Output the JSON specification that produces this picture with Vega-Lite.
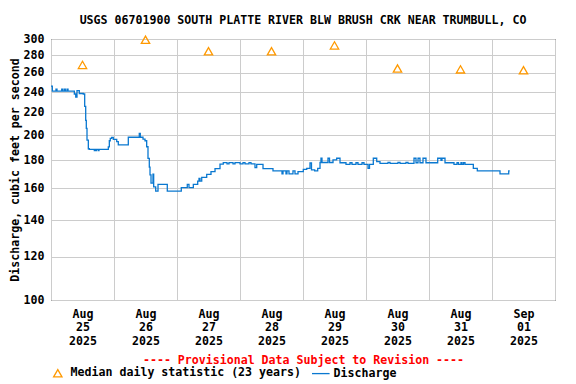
{
  "$schema": "https://vega.github.io/schema/vega-lite/v6.json",
  "width": 504,
  "height": 261,
  "autosize": "none",
  "padding": {"left": 51, "top": 39, "right": 21, "bottom": 84},
  "background": "white",
  "title": {
    "text": "USGS 06701900 SOUTH PLATTE RIVER BLW BRUSH CRK NEAR TRUMBULL, CO",
    "font": "DejaVu Sans Mono",
    "fontSize": 11.6,
    "fontWeight": "bold",
    "color": "black",
    "anchor": "middle",
    "offset": 6
  },
  "config": {
    "font": "DejaVu Sans Mono",
    "view": {"stroke": "black", "strokeWidth": 1},
    "axis": {
      "labelFont": "DejaVu Sans Mono",
      "labelFontSize": 11.6,
      "labelFontWeight": "bold",
      "labelColor": "black",
      "titleFont": "DejaVu Sans Mono",
      "titleFontSize": 11.6,
      "titleFontWeight": "bold",
      "titleColor": "black",
      "domain": false,
      "ticks": false,
      "gridColor": "#cccccc",
      "gridWidth": 1
    },
    "legend": {
      "orient": "none",
      "legendX": 1,
      "legendY": 328,
      "direction": "horizontal",
      "labelFont": "DejaVu Sans Mono",
      "labelFontSize": 11.6,
      "labelFontWeight": "bold",
      "labelColor": "black",
      "symbolSize": 70,
      "symbolStrokeWidth": 1.3,
      "labelOffset": 7,
      "columnPadding": 8,
      "labelLimit": 400
    }
  },
  "resolve": {"axis": {"x": "independent"}},
  "datasets": {
    "q": [
      {"t": "2025-08-25T00:00", "q": 246},
      {"t": "2025-08-25T00:30", "q": 241},
      {"t": "2025-08-25T01:54", "q": 243},
      {"t": "2025-08-25T02:17", "q": 241},
      {"t": "2025-08-25T04:05", "q": 243},
      {"t": "2025-08-25T04:27", "q": 241},
      {"t": "2025-08-25T05:04", "q": 243},
      {"t": "2025-08-25T05:27", "q": 241},
      {"t": "2025-08-25T06:06", "q": 243},
      {"t": "2025-08-25T06:29", "q": 241},
      {"t": "2025-08-25T08:53", "q": 238},
      {"t": "2025-08-25T09:25", "q": 235},
      {"t": "2025-08-25T09:54", "q": 241.5},
      {"t": "2025-08-25T10:47", "q": 238.5},
      {"t": "2025-08-25T12:18", "q": 238},
      {"t": "2025-08-25T12:50", "q": 226},
      {"t": "2025-08-25T13:13", "q": 213},
      {"t": "2025-08-25T13:27", "q": 206},
      {"t": "2025-08-25T13:43", "q": 196},
      {"t": "2025-08-25T14:13", "q": 189},
      {"t": "2025-08-25T14:35", "q": 188.5},
      {"t": "2025-08-25T16:30", "q": 187.5},
      {"t": "2025-08-25T16:46", "q": 188.5},
      {"t": "2025-08-25T17:02", "q": 187.5},
      {"t": "2025-08-25T17:20", "q": 188.5},
      {"t": "2025-08-25T18:01", "q": 187.5},
      {"t": "2025-08-25T18:17", "q": 188.5},
      {"t": "2025-08-25T21:50", "q": 190.5},
      {"t": "2025-08-25T22:13", "q": 195.5},
      {"t": "2025-08-25T22:35", "q": 197.5},
      {"t": "2025-08-25T23:07", "q": 198.3},
      {"t": "2025-08-25T23:44", "q": 196.6},
      {"t": "2025-08-26T01:02", "q": 194.8},
      {"t": "2025-08-26T01:38", "q": 192.2},
      {"t": "2025-08-26T05:27", "q": 198.4},
      {"t": "2025-08-26T09:38", "q": 201.6},
      {"t": "2025-08-26T10:01", "q": 198.4},
      {"t": "2025-08-26T11:03", "q": 196.8},
      {"t": "2025-08-26T11:49", "q": 195.5},
      {"t": "2025-08-26T12:27", "q": 190.6},
      {"t": "2025-08-26T12:57", "q": 181.5},
      {"t": "2025-08-26T13:27", "q": 175},
      {"t": "2025-08-26T13:43", "q": 169.3},
      {"t": "2025-08-26T14:06", "q": 163.5},
      {"t": "2025-08-26T14:51", "q": 169.8},
      {"t": "2025-08-26T15:07", "q": 161},
      {"t": "2025-08-26T15:53", "q": 158.2},
      {"t": "2025-08-26T16:46", "q": 162.7},
      {"t": "2025-08-26T20:18", "q": 158.2},
      {"t": "2025-08-27T01:38", "q": 160.5},
      {"t": "2025-08-27T03:55", "q": 162.7},
      {"t": "2025-08-27T04:34", "q": 160.5},
      {"t": "2025-08-27T06:13", "q": 162.7},
      {"t": "2025-08-27T07:53", "q": 165},
      {"t": "2025-08-27T08:23", "q": 166.9},
      {"t": "2025-08-27T08:46", "q": 165},
      {"t": "2025-08-27T09:25", "q": 167.6},
      {"t": "2025-08-27T11:19", "q": 169.7},
      {"t": "2025-08-27T12:57", "q": 171.6},
      {"t": "2025-08-27T14:29", "q": 173.8},
      {"t": "2025-08-27T16:23", "q": 177.2},
      {"t": "2025-08-27T17:38", "q": 178.3},
      {"t": "2025-08-27T19:03", "q": 177.4},
      {"t": "2025-08-27T19:49", "q": 178.3},
      {"t": "2025-08-27T21:20", "q": 177.4},
      {"t": "2025-08-27T22:06", "q": 178.3},
      {"t": "2025-08-28T00:00", "q": 177.4},
      {"t": "2025-08-28T01:09", "q": 178.3},
      {"t": "2025-08-28T01:54", "q": 177.4},
      {"t": "2025-08-28T03:26", "q": 178.3},
      {"t": "2025-08-28T04:11", "q": 177.4},
      {"t": "2025-08-28T05:43", "q": 174.6},
      {"t": "2025-08-28T06:22", "q": 177},
      {"t": "2025-08-28T08:46", "q": 173.8},
      {"t": "2025-08-28T12:34", "q": 172.2},
      {"t": "2025-08-28T16:00", "q": 170},
      {"t": "2025-08-28T16:23", "q": 172.2},
      {"t": "2025-08-28T17:31", "q": 170},
      {"t": "2025-08-28T17:54", "q": 172.2},
      {"t": "2025-08-28T18:40", "q": 170},
      {"t": "2025-08-28T20:11", "q": 172.2},
      {"t": "2025-08-28T20:57", "q": 170},
      {"t": "2025-08-28T22:06", "q": 171.6},
      {"t": "2025-08-29T00:07", "q": 173.3},
      {"t": "2025-08-29T01:25", "q": 174},
      {"t": "2025-08-29T02:40", "q": 178},
      {"t": "2025-08-29T03:14", "q": 173},
      {"t": "2025-08-29T04:27", "q": 172.2},
      {"t": "2025-08-29T05:36", "q": 174},
      {"t": "2025-08-29T06:29", "q": 178.4},
      {"t": "2025-08-29T06:51", "q": 181.6},
      {"t": "2025-08-29T07:14", "q": 178.4},
      {"t": "2025-08-29T09:31", "q": 181.6},
      {"t": "2025-08-29T10:06", "q": 178.4},
      {"t": "2025-08-29T11:26", "q": 180.3},
      {"t": "2025-08-29T12:50", "q": 181.6},
      {"t": "2025-08-29T14:06", "q": 178.2},
      {"t": "2025-08-29T16:23", "q": 177},
      {"t": "2025-08-29T17:54", "q": 178.2},
      {"t": "2025-08-29T18:40", "q": 177},
      {"t": "2025-08-29T20:11", "q": 178.2},
      {"t": "2025-08-29T20:57", "q": 177},
      {"t": "2025-08-29T22:29", "q": 178.2},
      {"t": "2025-08-29T23:14", "q": 177},
      {"t": "2025-08-30T00:46", "q": 174},
      {"t": "2025-08-30T01:20", "q": 177},
      {"t": "2025-08-30T02:47", "q": 181.6},
      {"t": "2025-08-30T04:05", "q": 179},
      {"t": "2025-08-30T05:20", "q": 177.7},
      {"t": "2025-08-30T08:23", "q": 178.5},
      {"t": "2025-08-30T09:09", "q": 177.7},
      {"t": "2025-08-30T12:11", "q": 178.5},
      {"t": "2025-08-30T12:57", "q": 177.7},
      {"t": "2025-08-30T15:14", "q": 178.5},
      {"t": "2025-08-30T16:00", "q": 177.7},
      {"t": "2025-08-30T18:17", "q": 181.6},
      {"t": "2025-08-30T19:03", "q": 178.2},
      {"t": "2025-08-30T19:49", "q": 181.6},
      {"t": "2025-08-30T20:34", "q": 178.2},
      {"t": "2025-08-30T21:43", "q": 181.6},
      {"t": "2025-08-30T22:51", "q": 178.2},
      {"t": "2025-08-31T03:19", "q": 181.6},
      {"t": "2025-08-31T04:34", "q": 180},
      {"t": "2025-08-31T04:57", "q": 181.6},
      {"t": "2025-08-31T06:06", "q": 178.2},
      {"t": "2025-08-31T09:31", "q": 177},
      {"t": "2025-08-31T10:40", "q": 178.2},
      {"t": "2025-08-31T11:14", "q": 177},
      {"t": "2025-08-31T12:11", "q": 178.2},
      {"t": "2025-08-31T12:34", "q": 177},
      {"t": "2025-08-31T13:09", "q": 178.2},
      {"t": "2025-08-31T13:43", "q": 177},
      {"t": "2025-08-31T16:53", "q": 174},
      {"t": "2025-08-31T18:24", "q": 172.2},
      {"t": "2025-09-01T03:03", "q": 170},
      {"t": "2025-09-01T06:22", "q": 172.2},
      {"t": "2025-09-01T06:45", "q": 172.2}
    ],
    "med": [
      {"t": "2025-08-25T12:00", "m": 269},
      {"t": "2025-08-26T12:00", "m": 299},
      {"t": "2025-08-27T12:00", "m": 285},
      {"t": "2025-08-28T12:00", "m": 285},
      {"t": "2025-08-29T12:00", "m": 292},
      {"t": "2025-08-30T12:00", "m": 265},
      {"t": "2025-08-31T12:00", "m": 264},
      {"t": "2025-09-01T12:00", "m": 263}
    ]
  },
  "layer": [
    {
      "data": {"name": "q"},
      "mark": {"type": "line", "interpolate": "step-after", "strokeWidth": 1.3},
      "encoding": {
        "x": {
          "field": "t",
          "type": "temporal",
          "scale": {
            "domain": [
              {"year": 2025, "month": 8, "date": 25, "hours": 0},
              {"year": 2025, "month": 9, "date": 2, "hours": 0}
            ],
            "nice": false
          },
          "axis": {
            "orient": "bottom",
            "title": null,
            "labels": false,
            "values": [
              {"year": 2025, "month": 8, "date": 25, "hours": 0},
              {"year": 2025, "month": 8, "date": 26, "hours": 0},
              {"year": 2025, "month": 8, "date": 27, "hours": 0},
              {"year": 2025, "month": 8, "date": 28, "hours": 0},
              {"year": 2025, "month": 8, "date": 29, "hours": 0},
              {"year": 2025, "month": 8, "date": 30, "hours": 0},
              {"year": 2025, "month": 8, "date": 31, "hours": 0},
              {"year": 2025, "month": 9, "date": 1, "hours": 0},
              {"year": 2025, "month": 9, "date": 2, "hours": 0}
            ],
            "grid": true
          }
        },
        "y": {
          "field": "q",
          "type": "quantitative",
          "scale": {"type": "log", "domain": [100, 300], "nice": false, "zero": false},
          "axis": {
            "title": "Discharge, cubic feet per second",
            "values": [100, 120, 140, 160, 180, 200, 220, 240, 260, 280, 300],
            "format": "d",
            "labelPadding": 7,
            "titlePadding": 3
          }
        },
        "color": {
          "datum": "Discharge",
          "type": "nominal",
          "scale": {
            "domain": ["Median daily statistic (23 years)", "Discharge"],
            "range": ["#ff9900", "#0a78d0"]
          },
          "legend": {"title": null}
        }
      }
    },
    {
      "data": {"name": "med"},
      "mark": {"type": "point", "filled": false, "strokeWidth": 1.3, "size": 70, "opacity": 1},
      "encoding": {
        "x": {
          "field": "t",
          "type": "temporal",
          "axis": {
            "orient": "bottom",
            "title": "---- Provisional Data Subject to Revision ----",
            "titleColor": "#ff0000",
            "titlePadding": 8,
            "grid": false,
            "values": [
              {"year": 2025, "month": 8, "date": 25, "hours": 12},
              {"year": 2025, "month": 8, "date": 26, "hours": 12},
              {"year": 2025, "month": 8, "date": 27, "hours": 12},
              {"year": 2025, "month": 8, "date": 28, "hours": 12},
              {"year": 2025, "month": 8, "date": 29, "hours": 12},
              {"year": 2025, "month": 8, "date": 30, "hours": 12},
              {"year": 2025, "month": 8, "date": 31, "hours": 12},
              {"year": 2025, "month": 9, "date": 1, "hours": 12}
            ],
            "labelExpr": "[timeFormat(datum.value, '%b'), timeFormat(datum.value, '%d'), timeFormat(datum.value, '%Y')]",
            "labelLineHeight": 13.5,
            "labelBaseline": "top",
            "labelPadding": 8,
            "labelOverlap": false,
            "labelFlush": false
          }
        },
        "y": {"field": "m", "type": "quantitative"},
        "color": {"datum": "Median daily statistic (23 years)", "type": "nominal"},
        "shape": {
          "datum": "Median daily statistic (23 years)",
          "type": "nominal",
          "scale": {
            "domain": ["Median daily statistic (23 years)", "Discharge"],
            "range": ["triangle-up", "M-2.1,0L2.1,0"]
          },
          "legend": {"title": null}
        }
      }
    }
  ]
}
